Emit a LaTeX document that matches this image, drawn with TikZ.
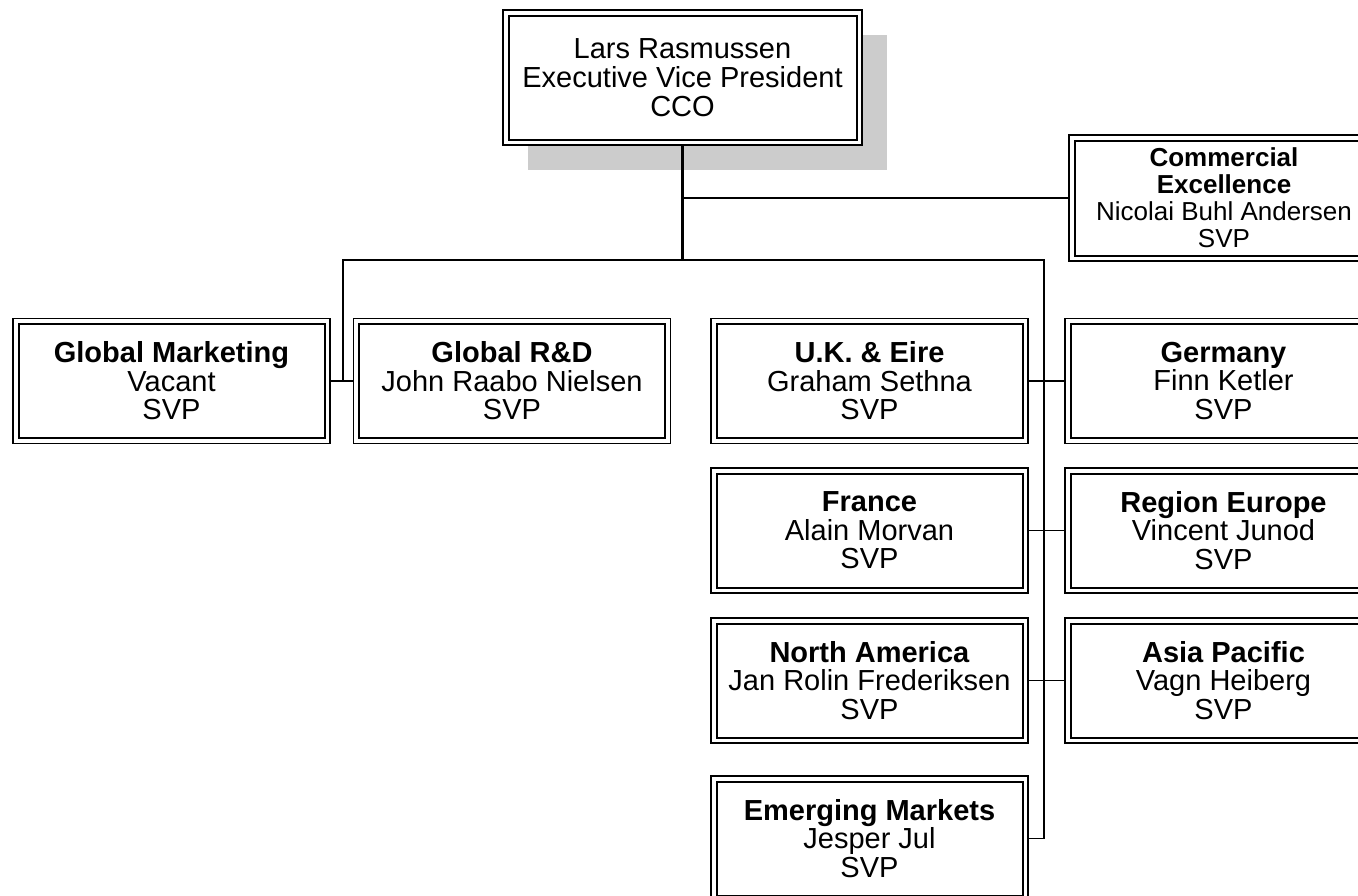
\documentclass[tikz,border=0pt]{standalone}
\usepackage{fontspec}
\setmainfont{Liberation Sans}
\usetikzlibrary{calc}
\definecolor{shadowgray}{RGB}{204,204,204}
\tikzset{
  orgbox/.style={minimum width=317pt, minimum height=125pt, inner sep=0pt, outer sep=0pt,
    align=center, font=\fontsize{29}{28.5}\selectfont, draw, line width=1.2pt, fill=white},
  bar/.style={line width=2.8pt, line join=miter},
  twig/.style={line width=1.6pt},
  innerline/.style={line width=2pt},
}
\newcommand{\innerframe}[1]{\draw[innerline] ($(#1.north west)+(5.5,5.5)$) rectangle ($(#1.south east)+(-5.5,-5.5)$);}
\begin{document}
\begin{tikzpicture}[x=1pt,y=-1pt]
\useasboundingbox (0,0) rectangle (1358,895);
\clip (0,0) rectangle (1358,895);
% shadow of top box
\fill[shadowgray] (528,35) rectangle (887,170);
% nodes
\node[orgbox, minimum width=359pt, minimum height=135pt, font=\fontsize{29}{29}\selectfont] (top) at (682.5,77.5) {Lars Rasmussen\\Executive Vice President\\CCO};
\node[orgbox, minimum width=310pt, minimum height=126pt, font=\fontsize{26}{27}\selectfont] (ce) at (1224,198) {\textbf{Commercial}\\\textbf{Excellence}\\Nicolai Buhl Andersen\\SVP};
\node[orgbox] (gm) at (171.5,381) {\textbf{Global Marketing}\\Vacant\\SVP};
\node[orgbox] (grd) at (512,381) {\textbf{Global R\&D}\\John Raabo Nielsen\\SVP};
\node[orgbox] (uk) at (869.5,381) {\textbf{U.K. \& Eire}\\Graham Sethna\\SVP};
\node[orgbox] (de) at (1223.5,381) {\textbf{Germany}\\Finn Ketler\\SVP};
\node[orgbox] (fr) at (869.5,530.5) {\textbf{France}\\Alain Morvan\\SVP};
\node[orgbox] (re) at (1223.5,530.5) {\textbf{Region Europe}\\Vincent Junod\\SVP};
\node[orgbox] (na) at (869.5,680.5) {\textbf{North America}\\Jan Rolin Frederiksen\\SVP};
\node[orgbox] (ap) at (1223.5,680.5) {\textbf{Asia Pacific}\\Vagn Heiberg\\SVP};
\node[orgbox] (em) at (869.5,838.5) {\textbf{Emerging Markets}\\Jesper Jul\\SVP};
\foreach \n in {top,ce,gm,grd,uk,de,fr,re,na,ap,em}{\innerframe{\n}}
% connector points
\coordinate (busM) at (682.5,260);
\coordinate (busL) at (343,260);
\coordinate (busR) at (1044,260);
% connectors
\draw[bar] (top.south) -- (busM);
\draw[twig] (ce.west) -- (ce.west -| top.south);
\draw[bar] (busL |- gm.east) -- (busL) -- (busR) -- (busR |- na.east);
\draw[twig] (gm.east) -- (grd.west);
\draw[twig] (busR |- na.east) -- (busR |- em.east) -- (em.east);
\draw[twig] (uk.east) -- (de.west);
\draw[twig] (fr.east) -- (re.west);
\draw[twig] (na.east) -- (ap.west);
\end{tikzpicture}
\end{document}
